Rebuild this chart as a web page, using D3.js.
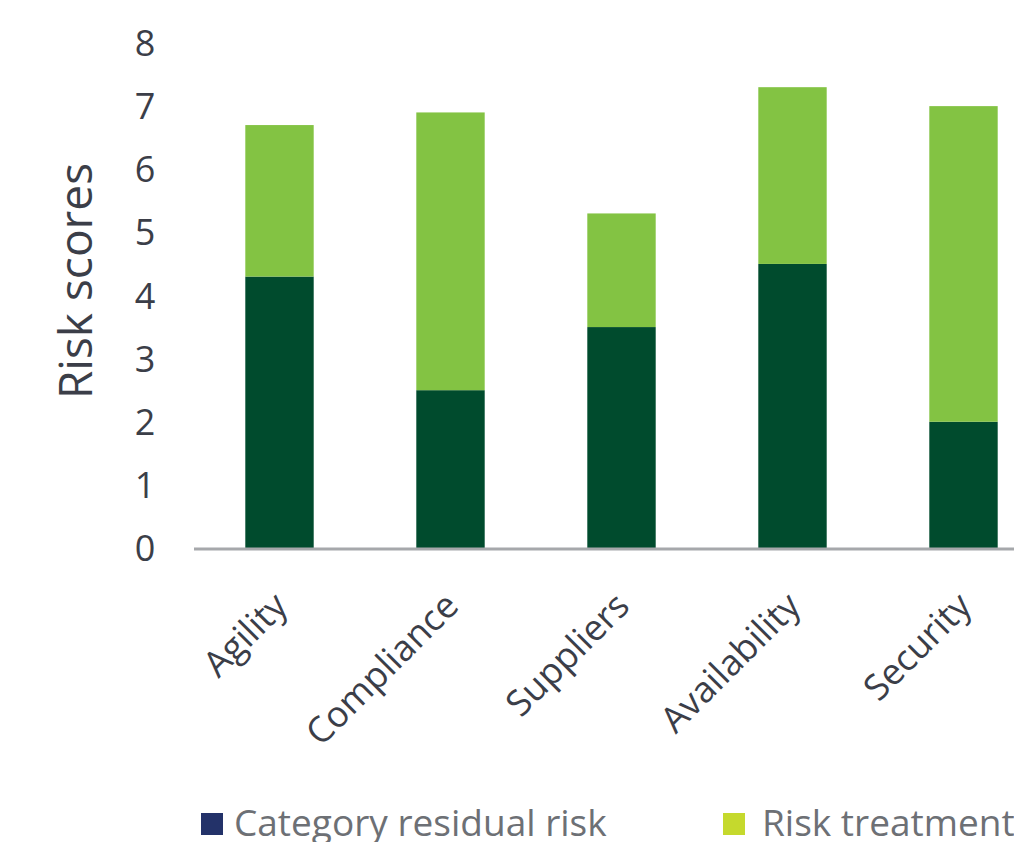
<!DOCTYPE html>
<html>
<head>
<meta charset="utf-8">
<script src="https://cdn.jsdelivr.net/npm/d3@7"></script>
<style>
  html, body { margin: 0; padding: 0; background: #fff; overflow: hidden; }
  svg { display: block; font-family: "Open Sans", "Noto Sans", sans-serif; }
</style>
</head>
<body>
<script>
(function(window){
    'use strict'

    var categories = ['Agility', 'Compliance', 'Suppliers', 'Availability', 'Security'];
    var residualRisk = [4.3, 2.5, 3.5, 4.5, 2.0];
    var riskTreatment = [2.4, 4.4, 1.8, 2.8, 5.0];
    var yTicks = [0, 1, 2, 3, 4, 5, 6, 7, 8];
    var seriesNames = ['Category residual risk', 'Risk treatment'];
    var legendColors = ['#233269', '#c5d92d'];

    var width = 1014, height = 842;

    var svg = d3.select('body').append('svg')
        .attr('width', width)
        .attr('height', height);

    var x = d3.scaleBand()
        .domain(categories)
        .range([194, 1049])
        .paddingInner(0.6)
        .paddingOuter(0.3);

    var y = d3.scaleLinear()
        .domain([0, 8])
        .range([548, 43]);

    var rows = categories.map(function(c, i) {
        return { cat: c, residual: residualRisk[i], treatment: riskTreatment[i] };
    });
    var stack = d3.stack().keys(['residual', 'treatment'])(rows);
    var barColors = { residual: '#004b2d', treatment: '#83c343' };

    svg.append('g').selectAll('g')
        .data(stack)
        .enter().append('g')
        .attr('fill', function(s) { return barColors[s.key]; })
        .selectAll('rect')
        .data(function(s) { return s; })
        .enter().append('rect')
        .attr('x', function(d) { return x(d.data.cat); })
        .attr('width', x.bandwidth())
        .attr('y', function(d) { return y(d[1]); })
        .attr('height', function(d) { return y(d[0]) - y(d[1]); });

    // y axis labels only, no line
    var yAxis = svg.append('g')
        .attr('transform', 'translate(158,0)')
        .call(d3.axisLeft(y).tickValues(yTicks).tickSize(0).tickPadding(0));
    yAxis.select('.domain').remove();
    yAxis.selectAll('text')
        .attr('fill', '#3b3e48')
        .attr('font-size', 36)
        .attr('font-family', '"Open Sans", sans-serif')
        .attr('text-anchor', 'middle')
        .attr('x', -13)
        .attr('dy', '0.35em');

    // baseline
    svg.append('line')
        .attr('x1', 194).attr('x2', width)
        .attr('y1', y(0) + 1).attr('y2', y(0) + 1)
        .attr('stroke', '#a6a8ab')
        .attr('stroke-width', 3);

    // x labels
    svg.append('g').selectAll('text')
        .data(categories)
        .enter().append('text')
        .attr('transform', function(d) {
            return 'translate(' + (x(d) + x.bandwidth() / 2 + 10) + ',608) rotate(-45)';
        })
        .attr('text-anchor', 'end')
        .attr('fill', '#3b3e48')
        .attr('font-size', 36)
        .text(function(d) { return d; });

    svg.append('text')
        .attr('transform', 'translate(92,281) rotate(-90)')
        .attr('text-anchor', 'middle')
        .attr('fill', '#3b3e48')
        .attr('font-size', 46)
        .text('Risk scores');

    // legend
    var legendX = [201, 723];
    var lg = svg.append('g').selectAll('g')
        .data(seriesNames)
        .enter().append('g')
        .attr('transform', function(d, i) { return 'translate(' + legendX[i] + ',0)'; });
    lg.append('rect')
        .attr('x', 0).attr('y', 813)
        .attr('width', 22).attr('height', 22)
        .attr('fill', function(d, i) { return legendColors[i]; });
    lg.append('text')
        .attr('x', function(d, i) { return i === 0 ? 33 : 39; })
        .attr('y', 836)
        .attr('fill', '#6d7075')
        .attr('font-size', 37)
        .text(function(d) { return d; });

})(window);
</script>
</body>
</html>
